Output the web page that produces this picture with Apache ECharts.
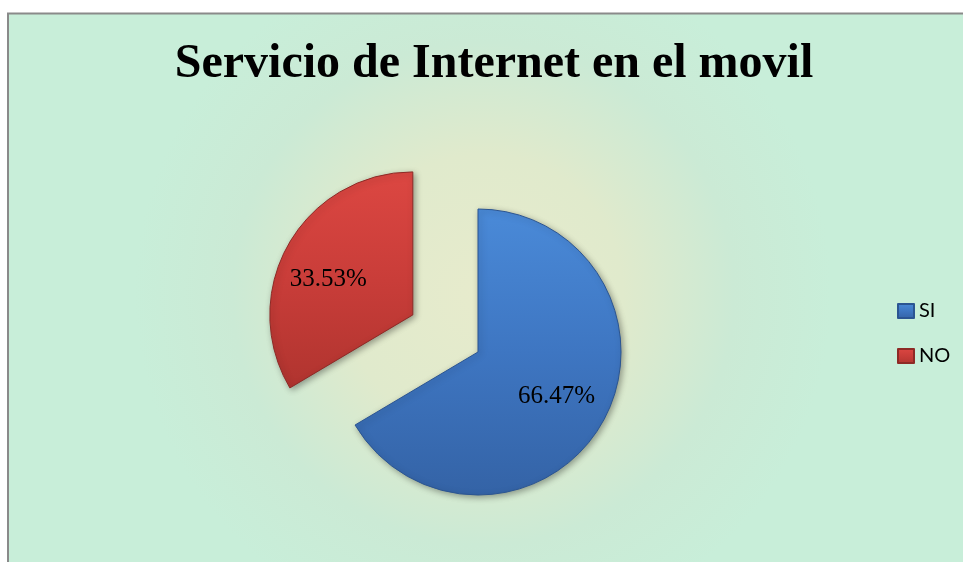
<!DOCTYPE html>
<html>
<head>
<meta charset="utf-8">
<script src="https://cdn.jsdelivr.net/npm/echarts@6/dist/echarts.min.js"></script>
<style>
html,body{margin:0;padding:0;background:#fff;}
#c{width:963px;height:562px;}
</style>
</head>
<body>
<div id="c"></div>
<script>
const titleText = 'Servicio de Internet en el movil';
const categories = ['SI', 'NO'];
const values = [66.47, 33.53];
const selectedFlags = [false, true];

const fills = [
  {type:'linear',x:0,y:0,x2:0,y2:1,colorStops:[{offset:0,color:'#4a8ad8'},{offset:0.5,color:'#3e76c2'},{offset:1,color:'#3463a6'}]},
  {type:'linear',x:0,y:0,x2:0,y2:1,colorStops:[{offset:0,color:'#dc4742'},{offset:0.5,color:'#c93d39'},{offset:1,color:'#b0342f'}]}
];
const borders = ['#2b5592', '#8e2a26'];
const labelShift = [[0, 0], [-6, 9]];

const chart = echarts.init(document.getElementById('c'), null, {renderer:'canvas'});

const pieData = categories.map((c, i) => ({
  name: c, value: values[i], selected: selectedFlags[i],
  itemStyle: {color: fills[i], borderColor: borders[i], borderWidth: 1,
    shadowBlur: 6, shadowColor: 'rgba(0,0,0,0.35)', shadowOffsetX: 2, shadowOffsetY: 2}
}));
const labelData = categories.map((c, i) => ({
  name: c, value: values[i], selected: selectedFlags[i]
}));

chart.setOption({
  animation: false,
  graphic: [{
    type: 'rect', silent: true, z: -10,
    shape: {x: 8, y: 13.5, width: 970, height: 560},
    style: {
      fill: {type:'radial', x:0.49, y:0.5, r:0.62, colorStops:[
        {offset:0, color:'#e7ebcc'},
        {offset:0.4, color:'#e0eacc'},
        {offset:0.72, color:'#cbead5'},
        {offset:1, color:'#c8eed9'}
      ]},
      stroke: '#8a8a8a', lineWidth: 2
    }
  }],
  title: {
    text: titleText,
    left: 489, top: 36, textAlign: 'center',
    textStyle: {fontFamily: 'Liberation Serif', fontWeight: 'bold', fontSize: 48, color: '#000'}
  },
  legend: {
    orient: 'vertical', left: 892, top: 296,
    itemWidth: 16, itemHeight: 14, itemGap: 25,
    icon: 'rect',
    data: categories,
    textStyle: {fontFamily: 'Lato', fontSize: 20, color: '#000'}
  },
  series: [{
    type: 'pie',
    center: [478, 352],
    radius: [0, 143],
    startAngle: 90,
    clockwise: true,
    selectedMode: 'multiple',
    selectedOffset: 75,
    label: {show: false},
    labelLine: {show: false},
    emphasis: {disabled: true},
    data: pieData
  }, {
    type: 'pie',
    center: [478, 352],
    radius: [32, 143],
    startAngle: 90,
    clockwise: true,
    silent: true,
    selectedMode: 'multiple',
    selectedOffset: 75,
    itemStyle: {color: 'rgba(0,0,0,0)', borderWidth: 0},
    label: {show: true, position: 'inside', formatter: p => p.value.toFixed(2) + '%',
      fontFamily: 'Liberation Serif', fontSize: 25, color: '#000'},
    labelLayout: p => ({dx: labelShift[p.dataIndex][0], dy: labelShift[p.dataIndex][1]}),
    labelLine: {show: false},
    emphasis: {disabled: true},
    data: labelData
  }]
});
</script>
</body>
</html>
